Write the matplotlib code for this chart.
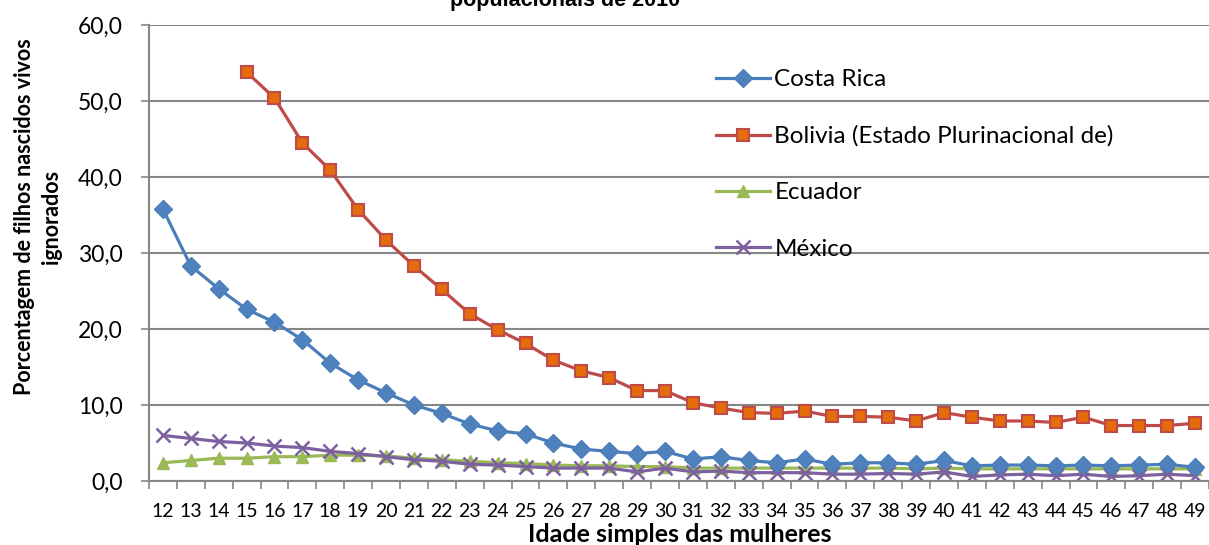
import matplotlib.pyplot as plt
import numpy as np
from matplotlib.ticker import FuncFormatter, FixedLocator

plt.rcParams['font.family'] = ['Lato', 'DejaVu Sans']

# Idade simples das mulheres
idades = list(range(12, 50))

costa_rica = [35.8, 28.3, 25.3, 22.6, 20.9, 18.6, 15.5, 13.3, 11.6, 10.0,
              8.9, 7.5, 6.6, 6.2, 5.0, 4.2, 3.9, 3.6, 3.9, 2.9,
              3.2, 2.7, 2.4, 2.9, 2.2, 2.4, 2.4, 2.2, 2.7, 2.0,
              2.1, 2.1, 2.0, 2.1, 2.0, 2.1, 2.2, 1.8]

# Bolivia starts at age 15
bolivia = [np.nan, np.nan, np.nan, 53.8, 50.4, 44.5, 40.9, 35.7, 31.7, 28.3,
           25.2, 22.0, 19.9, 18.1, 15.9, 14.5, 13.6, 11.9, 11.9, 10.3,
           9.6, 9.0, 8.9, 9.2, 8.5, 8.5, 8.4, 7.9, 9.0, 8.4,
           7.9, 7.9, 7.7, 8.4, 7.3, 7.3, 7.3, 7.6]

ecuador = [2.4, 2.7, 3.0, 3.0, 3.2, 3.2, 3.4, 3.4, 3.3, 3.0,
           2.8, 2.6, 2.4, 2.3, 2.1, 2.0, 2.0, 1.9, 1.9, 1.7,
           1.7, 1.7, 1.7, 1.7, 1.7, 1.7, 1.7, 1.6, 1.7, 1.6,
           1.6, 1.6, 1.6, 1.6, 1.6, 1.6, 1.6, 1.6]

mexico = [6.0, 5.6, 5.2, 5.0, 4.6, 4.4, 3.9, 3.6, 3.2, 2.8,
          2.6, 2.2, 2.1, 1.9, 1.7, 1.7, 1.7, 1.2, 1.7, 1.2,
          1.3, 1.1, 1.1, 1.1, 0.9, 0.9, 1.0, 0.9, 1.2, 0.6,
          0.8, 0.9, 0.7, 0.9, 0.6, 0.7, 0.9, 0.7]

fig = plt.figure(figsize=(12.09, 5.45), dpi=100)
ax = fig.add_axes([0.1232, 0.1174, 0.8768, 0.8367])

x = np.arange(len(idades))

ax.plot(x, costa_rica, color='#4A7EBB', lw=2.3, marker='D', ms=9,
        mfc='#4F81BD', mec='#4A7EBB', label='Costa Rica', zorder=3)
ax.plot(x, bolivia, color='#BE4B48', lw=2.3, marker='s', ms=9,
        mfc='#E46C0A', mec='#BE4B48', mew=1.5,
        label='Bolivia (Estado Plurinacional de)', zorder=4)
ax.plot(x, ecuador, color='#98B954', lw=2.3, marker='^', ms=9,
        mfc='#9BBB59', mec='#98B954', label='Ecuador', zorder=2)
ax.plot(x, mexico, color='#7D60A0', lw=2.3, marker='x', ms=10, mew=1.8,
        label='México', zorder=2)

ax.set_xlim(-0.5, len(idades) - 0.5)
ax.set_ylim(0, 60)
ax.set_yticks(np.arange(0, 61, 10))
ax.yaxis.set_major_formatter(FuncFormatter(lambda v, p: f'{v:.1f}'.replace('.', ',')))
ax.yaxis.grid(True, color='#868686', lw=1.5)
ax.set_axisbelow(True)

ax.set_xticks(x)
ax.set_xticklabels([str(i) for i in idades])
ax.xaxis.set_minor_locator(FixedLocator(np.arange(-0.5, len(idades), 1)))
ax.tick_params(axis='x', which='major', length=0, labelsize=14, pad=16)
ax.tick_params(axis='x', which='minor', length=6, color='#868686', width=1.2)
ax.tick_params(axis='y', length=6, color='#868686', width=1.2, labelsize=16.5, pad=13)

for side in ['top', 'right']:
    ax.spines[side].set_visible(False)
for side in ['left', 'bottom']:
    ax.spines[side].set_color('#868686')
    ax.spines[side].set_linewidth(1.5)

fig.text(0.5625, 1 - 534 / 545, 'Idade simples das mulheres', ha='center',
         va='center', fontsize=18, fontweight='bold')
fig.text(38 / 1209, 1 - 217 / 545, 'Porcentagem de filhos nascidos vivos\nignorados',
         ha='center', va='center', rotation=90, multialignment='center',
         fontsize=15.5, fontweight='bold', linespacing=1.3)

leg = ax.legend(loc='upper left', bbox_to_anchor=(0.535, 0.903), frameon=False,
                fontsize=17.5, handlelength=2.2, labelspacing=1.45,
                handletextpad=0.2, borderaxespad=0, borderpad=0)

fig.text(565 / 1209, 1 - 6 / 545, 'populacionais de 2010', ha='center', va='baseline',
         fontsize=15.5, fontweight='bold', family='Liberation Sans')

fig.savefig('out.png', dpi=100)
